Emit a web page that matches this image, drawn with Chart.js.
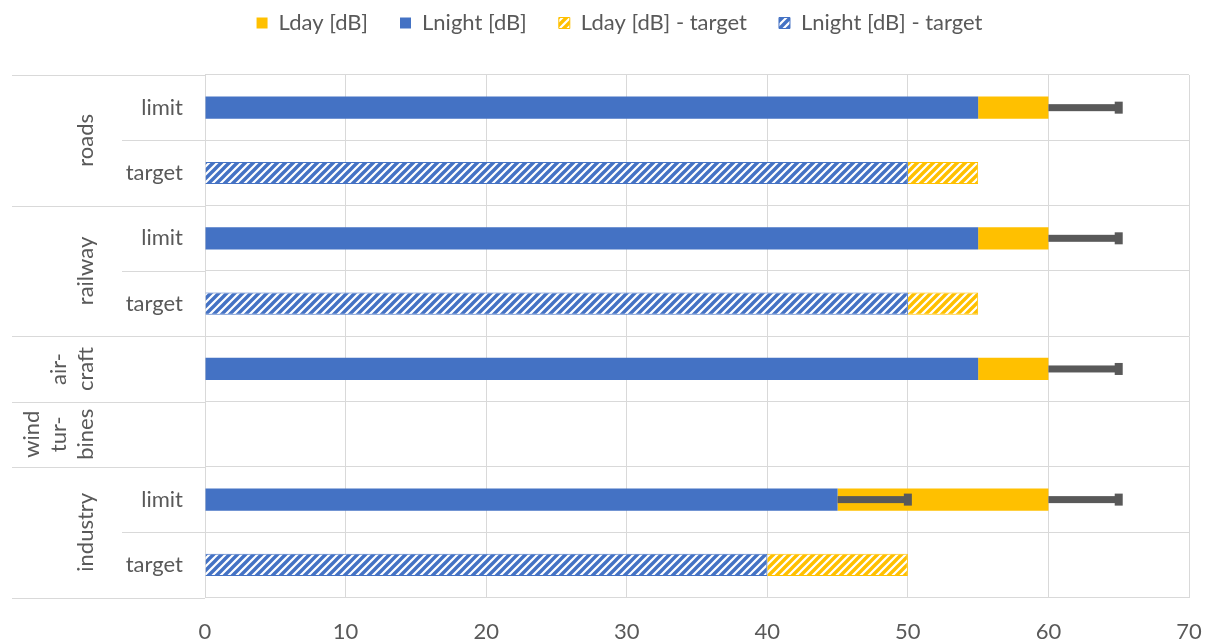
<!DOCTYPE html>
<html>
<head>
<meta charset="utf-8">
<script src="https://cdn.jsdelivr.net/npm/chart.js@4.4.0/dist/chart.umd.min.js"></script>
<style>
  html,body{margin:0;padding:0;background:#fff;}
  #wrap{width:1211px;height:641px;}
</style>
</head>
<body>
<div id="wrap"><canvas id="c" width="1211" height="641"></canvas></div>
<script>
// rows, top to bottom
const categories = ['limit','target','limit','target','','','limit','target'];
const groups = [
  {lines:['roads'], from:0, to:1},
  {lines:['railway'], from:2, to:3},
  {lines:['air-','craft'], from:4, to:4},
  {lines:['wind','tur-','bines'], from:5, to:5},
  {lines:['industry'], from:6, to:7}
];
// stacked segments
const lnight       = [55,null,55,null,55,null,45,null];
const lday         = [5,null,5,null,5,null,15,null];
const lnightTarget = [null,50,null,50,null,null,null,40];
const ldayTarget   = [null,5,null,5,null,null,null,10];
// plus error bars
const lnightErr = [null,null,null,null,null,null,5,null];
const ldayErr   = [5,null,5,null,5,null,5,null];
const xTicks = [0,10,20,30,40,50,60,70];

const legendOrder = ['Lday [dB]','Lnight [dB]','Lday [dB] - target','Lnight [dB] - target'];
const BLUE = '#4472C4', GOLD = '#FFC000', GRID = '#D9D9D9', TXT = '#595959';
const FONT = 'Lato, "Open Sans", sans-serif';
const FS = 22;

function hatch(color){
  const s = 8, cv = document.createElement('canvas');
  cv.width = s; cv.height = s;
  const g = cv.getContext('2d');
  g.fillStyle = '#fff'; g.fillRect(0,0,s,s);
  g.strokeStyle = color; g.lineWidth = 3.4;
  g.beginPath();
  g.moveTo(-s/2, s/2); g.lineTo(s/2, -s/2);
  g.moveTo(0, s); g.lineTo(s, 0);
  g.moveTo(s/2, s*1.5); g.lineTo(s*1.5, s/2);
  g.stroke();
  return g.createPattern(cv, 'repeat');
}

// error bars drawn over the bars
const errorBars = {
  id:'errorBars',
  afterDatasetsDraw(chart){
    const ctx = chart.ctx, xs = chart.scales.x;
    [[0, lnightErr],[1, ldayErr]].forEach(([di, errs])=>{
      const meta = chart.getDatasetMeta(di);
      errs.forEach((e,i)=>{
        if (e == null) return;
        const el = meta.data[i];
        const end = (di === 0 ? lnight[i] : lnight[i] + lday[i]) + e;
        const x2 = xs.getPixelForValue(end);
        ctx.save();
        ctx.fillStyle = TXT;
        ctx.fillRect(el.x, el.y - 3.5, x2 - el.x, 7);
        ctx.fillRect(x2 - 4, el.y - 6, 8, 12);
        ctx.restore();
      });
    });
  }
};

// extra room under the legend, and nudge it right
const legendGap = {
  id:'legendGap',
  beforeUpdate(chart){
    const lg = chart.legend;
    if (!lg || lg._gapPatched) return;
    const fit = lg.fit;
    lg.fit = function(){ fit.apply(this, arguments); this.height += 31; };
    lg._gapPatched = true;
  },
  afterLayout(chart){
    const lg = chart.legend;
    if (lg){ lg.left += 20; lg.right += 20; }
  }
};

// grouped category labels + divider lines left of the plot
const groupAxis = {
  id:'groupAxis',
  afterDraw(chart){
    const ctx = chart.ctx, ys = chart.scales.y, left = chart.chartArea.left;
    const step = ys.getPixelForValue(1) - ys.getPixelForValue(0);
    const edge = i => ys.getPixelForValue(i) - step/2;
    ctx.save();
    ctx.strokeStyle = GRID; ctx.lineWidth = 1;
    const major = new Set([0]);
    groups.forEach(g=>{ major.add(g.from); major.add(g.to+1); });
    for (let i = 0; i <= categories.length; i++){
      const y = Math.round(edge(i)) + 0.5;
      ctx.beginPath();
      ctx.moveTo(major.has(i) ? 12 : 122, y);
      ctx.lineTo(left, y);
      ctx.stroke();
    }
    ctx.fillStyle = TXT;
    ctx.font = FS + 'px ' + FONT;
    ctx.textAlign = 'center';
    ctx.textBaseline = 'middle';
    groups.forEach(g=>{
      const yc = (edge(g.from) + edge(g.to+1)) / 2;
      const n = g.lines.length;
      g.lines.forEach((t,k)=>{
        const x = 86 - (n-1-k)*27;
        ctx.save();
        ctx.translate(x, yc);
        ctx.rotate(-Math.PI/2);
        ctx.fillText(t, 0, 0);
        ctx.restore();
      });
    });
    ctx.restore();
  }
};

const ctx = document.getElementById('c').getContext('2d');
new Chart(ctx, {
  type:'bar',
  data:{
    labels: categories,
    datasets:[
      {label:'Lnight [dB]', data: lnight, backgroundColor: BLUE},
      {label:'Lday [dB]', data: lday, backgroundColor: GOLD},
      {label:'Lnight [dB] - target', data: lnightTarget, backgroundColor: hatch(BLUE), borderColor: BLUE, borderWidth: 1},
      {label:'Lday [dB] - target', data: ldayTarget, backgroundColor: hatch(GOLD), borderColor: GOLD, borderWidth: 1}
    ]
  },
  options:{
    responsive:false,
    animation:false,
    indexAxis:'y',
    layout:{padding:{left:10, right:22, top:-20, bottom:-25}},
    datasets:{bar:{categoryPercentage:1, barPercentage:0.34}},
    scales:{
      x:{
        stacked:true, min:0, max:70,
        afterBuildTicks: s => { s.ticks = xTicks.map(v=>({value:v})); },
        afterFit: s => { s.paddingRight = 0; s.paddingLeft = 0; },
        grid:{color:GRID, drawTicks:false},
        border:{display:false},
        ticks:{color:TXT, font:{family:FONT, size:FS}, padding:21}
      },
      y:{
        stacked:true,
        offset:true,
        grid:{offset:true, color:GRID, drawTicks:false},
        border:{display:false},
        ticks:{color:TXT, font:{family:FONT, size:FS}, padding:22},
        afterFit: s => { s.width = 195; }
      }
    },
    plugins:{
      legend:{
        position:'top',
        labels:{
          color:TXT, font:{family:FONT, size:FS},
          boxWidth:11, boxHeight:11, padding:32,
          sort:(a,b)=>legendOrder.indexOf(a.text)-legendOrder.indexOf(b.text)
        }
      },
      tooltip:{enabled:false}
    }
  },
  plugins:[legendGap, errorBars, groupAxis]
});
</script>
</body>
</html>
